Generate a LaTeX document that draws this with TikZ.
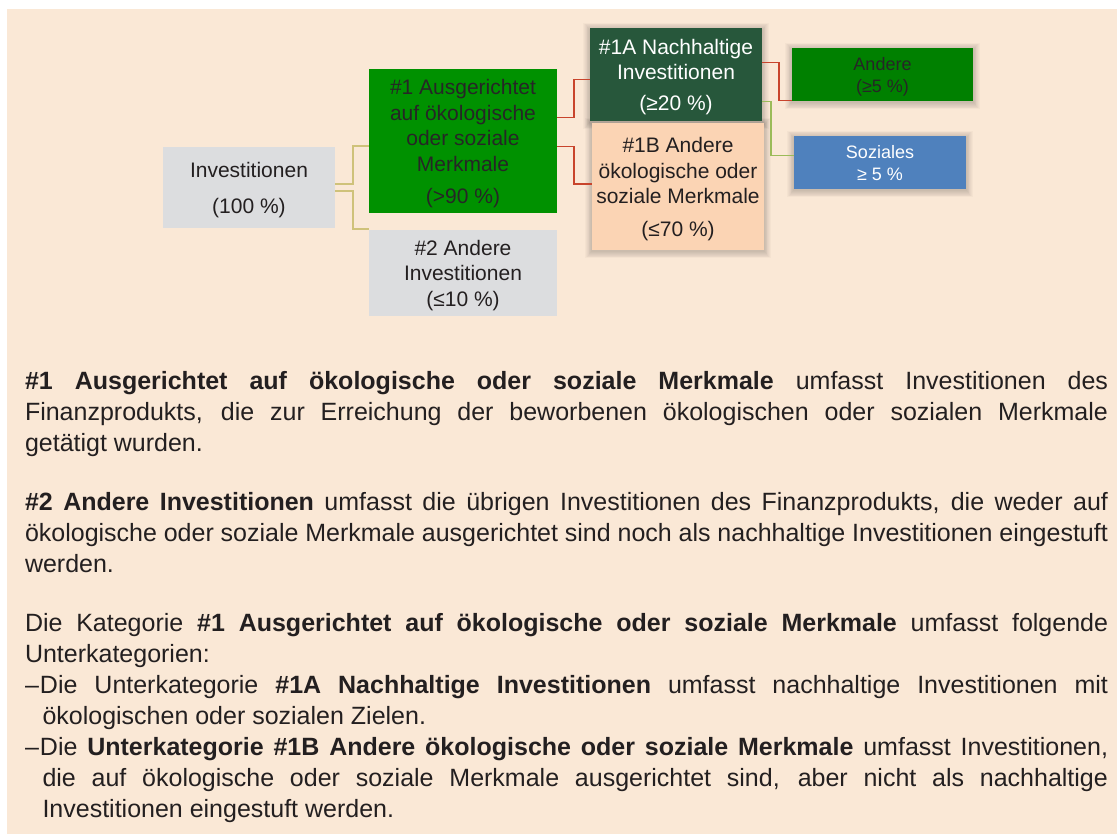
\documentclass[tikz,border=0pt]{standalone}
\usepackage{fontspec}
\setmainfont{Liberation Sans}
\pgfdeclarelayer{back}
\pgfdeclarelayer{shade}
\pgfsetlayers{back,shade,main}
\definecolor{bgc}{HTML}{FAE8D6}
\definecolor{grayc}{HTML}{DCDDDF}
\definecolor{greenA}{HTML}{009100}
\definecolor{darkg}{HTML}{27573B}
\definecolor{peach}{HTML}{FBD4B4}
\definecolor{greenB}{HTML}{008000}
\definecolor{bluec}{HTML}{4F81BD}
\definecolor{yconnc}{HTML}{CFC27A}
\definecolor{rconnc}{HTML}{C8442C}
\definecolor{gconnc}{HTML}{9BBB59}
\definecolor{txt}{HTML}{231F20}
\newcommand\softshadow[1]{%
  \begin{pgfonlayer}{shade}
  \foreach \k in {1,...,8}{%
    \fill[black,opacity=0.024] ([shift={(-\k*0.85,-\k*0.85+1.5)}]#1.north west) rectangle ([shift={(\k*0.85,\k*0.85+1.5)}]#1.south east);}
  \end{pgfonlayer}}
\begin{document}
\begin{tikzpicture}[x=1pt,y=-1pt,
  box/.style={anchor=north west, inner sep=0pt, outer sep=0pt},
  btext/.style={align=center, inner sep=0pt, text=txt, yshift=-2.5pt,
    font=\fontsize{21}{25.5}\selectfont},
  stext/.style={btext, font=\fontsize{18}{22}\selectfont},
  conn/.style={line width=1.2pt},
  para/.style={anchor=base west, inner sep=0pt, outer sep=0pt, text width=1083pt, align=justify,
    font=\fontsize{25}{31}\selectfont, text=txt}]
\useasboundingbox (0,0) rectangle (1117,834);
\begin{pgfonlayer}{back}
\fill[white] (0,0) rectangle (1117,834);
\fill[bgc] (7,9) rectangle (1117,834);
\end{pgfonlayer}

% boxes
\node[box, fill=grayc, minimum width=172pt, minimum height=81pt] (inv) at (163,147) {};
\node[btext] (inv-t) at (inv.center) {Investitionen\\[10.5pt](100 \%)};
\node[box, fill=greenA, minimum width=188pt, minimum height=144pt] (n1) at (369,69) {};
\node[btext, text=black!85] (n1-t) at (n1.center)
  {\#1 Ausgerichtet\\auf ökologische\\oder soziale\\Merkmale\\[6.5pt](>90 \%)};
\node[box, fill=grayc, minimum width=188pt, minimum height=86pt] (n2) at (369,230) {};
\node[btext] (n2-t) at (n2.center) {\#2 Andere\\Investitionen\\(≤10 \%)};
\node[box, fill=darkg, minimum width=172pt, minimum height=93pt] (n1A) at (590,28) {};
\node[btext, text=white] (n1A-t) at (n1A.center) {\#1A Nachhaltige\\Investitionen\\[5pt](≥20 \%)};
\node[box, fill=peach, minimum width=172pt, minimum height=127pt] (n1B) at (592,123) {};
\node[btext] (n1B-t) at (n1B.center) {\#1B Andere\\ökologische oder\\soziale Merkmale\\[7pt](≤70 \%)};
\node[box, fill=greenB, minimum width=181pt, minimum height=53pt] (and) at (792,48) {};
\node[stext, text=black!85] (and-t) at (and.center) {Andere\\(≥5 \%)};
\node[box, fill=bluec, minimum width=172pt, minimum height=53pt] (soz) at (794,136) {};
\node[stext, text=white, yshift=1.5pt] (soz-t) at (soz.center) {Soziales\\≥ 5 \%};

\softshadow{n1A}
\softshadow{n1B}
\softshadow{and}
\softshadow{soz}

% connectors
\draw[conn, yconnc] ([yshift=3.5pt]inv.east) -- ++(18,0) |- ([yshift=-5pt]n1.west);
\draw[conn, yconnc] ([yshift=-3.5pt]inv.east) -- ++(18,0) |- ([yshift=1pt]n2.north west);
\draw[conn, rconnc] ([yshift=23.85pt]n1.east) -- ++(17,0) |- ([yshift=-4.65pt]n1A.west);
\draw[conn, rconnc] ([yshift=-5.15pt]n1.east) -- ++(17,0) |- ([yshift=2.5pt]n1B.west);
\draw[conn, rconnc] ([yshift=12.35pt]n1A.east) -- ++(17,0) |- ([yshift=0.7pt]and.south west);
\draw[conn, gconnc] ([yshift=-26.65pt]n1A.east) -- ++(9,0) |- ([yshift=7.35pt]soz.west);

% text
\node[para] (p1) at (25,390) {\textbf{\#1 Ausgerichtet auf ökologische oder soziale Merkmale} umfasst Investitionen des\linebreak
Finanzprodukts, die zur Erreichung der beworbenen ökologischen oder sozialen Merkmale\linebreak
getätigt wurden.\par};
\node[para] (p2) at (25,510.5) {\textbf{\#2 Andere Investitionen} umfasst die übrigen Investitionen des Finanzprodukts, die weder auf\linebreak
ökologische oder soziale Merkmale ausgerichtet sind noch als nachhaltige Investitionen eingestuft\linebreak
werden.\par};
\node[para] (p3) at (25,631) {Die Kategorie \textbf{\#1 Ausgerichtet auf ökologische oder soziale Merkmale} umfasst folgende\linebreak
Unterkategorien:\par
\hangindent=17.5pt\hangafter=1\noindent\makebox[15pt][l]{–}Die Unterkategorie \textbf{\#1A Nachhaltige Investitionen} umfasst nachhaltige Investitionen mit\linebreak
ökologischen oder sozialen Zielen.\par
\hangindent=17.5pt\hangafter=1\noindent\makebox[15pt][l]{–}Die \textbf{Unterkategorie \#1B Andere ökologische oder soziale Merkmale} umfasst Investitionen,\linebreak
die auf ökologische oder soziale Merkmale ausgerichtet sind, aber nicht als nachhaltige\linebreak
Investitionen eingestuft werden.\par};
\end{tikzpicture}
\end{document}
